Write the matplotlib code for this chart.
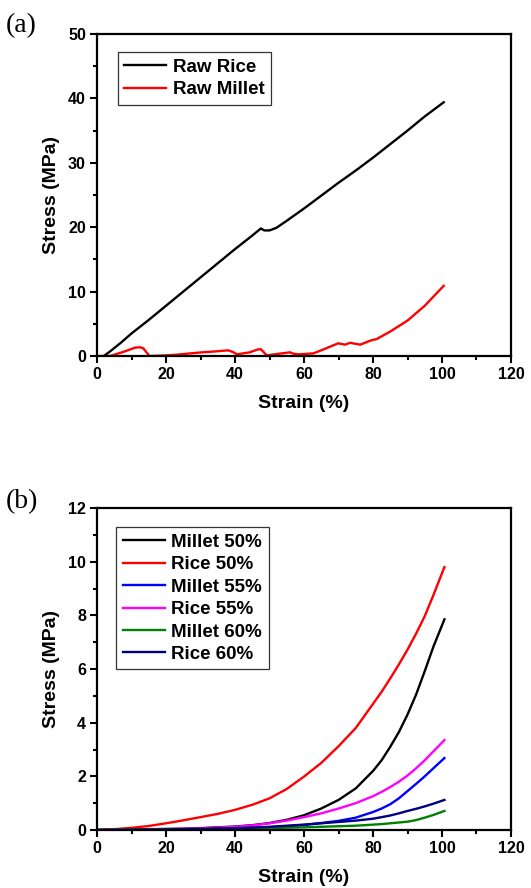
import numpy as np
import matplotlib
matplotlib.use("Agg")
import matplotlib.pyplot as plt
from matplotlib.ticker import MultipleLocator

plt.rcParams['font.family'] = ['Liberation Sans', 'DejaVu Sans']
plt.rcParams['font.weight'] = 'bold'

# panel (a): raw materials
rice_raw_x = [2, 4, 7, 10, 15, 20, 25, 30, 35, 40, 45, 47.5, 48.5, 50, 52, 55, 60, 65, 70, 75, 80, 85, 90, 95, 100.5]
rice_raw_y = [0, 0.8, 2.1, 3.5, 5.6, 7.8, 10.0, 12.2, 14.4, 16.6, 18.7, 19.8, 19.5, 19.5, 19.9, 21.0, 22.9, 24.9, 26.9, 28.8, 30.8, 32.9, 35.0, 37.2, 39.4]

millet_raw_x = [0, 3.8, 8, 11, 12.5, 13.4, 15.2, 20, 23, 30, 34, 38, 39.5, 40.5, 44.3, 46.5, 47.5, 49.2, 52, 55.9, 57, 58.4, 62.7, 66, 69.9, 71.9, 73.4, 76.3, 79.2, 81.1, 85, 90, 95, 100.5]
millet_raw_y = [0, 0, 0.7, 1.3, 1.35, 1.2, 0, 0.1, 0.2, 0.55, 0.7, 0.88, 0.6, 0.26, 0.57, 1.0, 1.05, 0.1, 0.3, 0.57, 0.35, 0.26, 0.4, 1.1, 1.97, 1.76, 2.05, 1.76, 2.38, 2.64, 3.8, 5.5, 7.8, 10.9]

# panel (b): compositions
strain_b = [0, 5, 10, 15, 20, 25, 30, 35, 40, 45, 50, 55, 60, 65, 70, 75, 80, 82.5, 85, 87.5, 90, 92.5, 95, 97.5, 100.7]
millet50 = [0, 0.01, 0.02, 0.03, 0.04, 0.05, 0.07, 0.1, 0.13, 0.18, 0.26, 0.38, 0.55, 0.8, 1.12, 1.55, 2.2, 2.6, 3.1, 3.65, 4.3, 5.05, 5.92, 6.83, 7.85]
rice50 = [0, 0.03, 0.08, 0.15, 0.25, 0.36, 0.48, 0.6, 0.75, 0.94, 1.18, 1.53, 1.99, 2.5, 3.12, 3.8, 4.7, 5.15, 5.65, 6.17, 6.72, 7.32, 7.97, 8.75, 9.8]
millet55 = [0, 0.005, 0.01, 0.015, 0.02, 0.03, 0.04, 0.05, 0.06, 0.08, 0.1, 0.14, 0.19, 0.26, 0.34, 0.46, 0.67, 0.8, 0.96, 1.18, 1.45, 1.72, 2.0, 2.3, 2.68]
rice55 = [0, 0.005, 0.01, 0.02, 0.03, 0.045, 0.06, 0.09, 0.12, 0.17, 0.25, 0.35, 0.48, 0.62, 0.8, 1.0, 1.26, 1.42, 1.6, 1.8, 2.03, 2.3, 2.6, 2.93, 3.35]
millet60 = [0, 0.005, 0.01, 0.015, 0.02, 0.025, 0.03, 0.04, 0.05, 0.06, 0.07, 0.085, 0.1, 0.12, 0.14, 0.16, 0.2, 0.22, 0.25, 0.28, 0.31, 0.37, 0.46, 0.56, 0.71]
rice60 = [0, 0.005, 0.01, 0.015, 0.02, 0.03, 0.04, 0.055, 0.07, 0.09, 0.12, 0.16, 0.2, 0.25, 0.3, 0.35, 0.42, 0.48, 0.54, 0.62, 0.71, 0.79, 0.88, 0.98, 1.12]

series_b = [
    ("Millet 50%", millet50, "#000000"),
    ("Rice 50%", rice50, "#ff0000"),
    ("Millet 55%", millet55, "#0000ff"),
    ("Rice 55%", rice55, "#ff00ff"),
    ("Millet 60%", millet60, "#008000"),
    ("Rice 60%", rice60, "#000080"),
]

W, H = 531, 888
fig = plt.figure(figsize=(W / 100, H / 100), dpi=100)


def make_axes(left, top, right, bottom):
    return fig.add_axes([left / W, 1 - bottom / H, (right - left) / W, (bottom - top) / H])


def style(ax, ymax, ystep):
    ax.set_xlim(0, 120)
    ax.set_ylim(0, ymax)
    ax.xaxis.set_major_locator(MultipleLocator(20))
    ax.xaxis.set_minor_locator(MultipleLocator(10))
    ax.yaxis.set_major_locator(MultipleLocator(ystep))
    ax.yaxis.set_minor_locator(MultipleLocator(ystep / 2))
    ax.tick_params(which='both', direction='out', width=1.5, top=False, right=False)
    ax.tick_params(which='major', length=5, labelsize=11.5, pad=3)
    ax.tick_params(which='minor', length=3)
    for s in ax.spines.values():
        s.set_linewidth(1.6)
    for lab in ax.get_xticklabels() + ax.get_yticklabels():
        lab.set_fontweight('bold')
    ax.set_xlabel("Strain (%)", fontsize=14, fontweight='bold', labelpad=9)
    ax.set_ylabel("Stress (MPa)", fontsize=14, fontweight='bold', labelpad=6)


def add_legend(ax, anchor):
    leg = ax.legend(loc='upper left', bbox_to_anchor=anchor, fancybox=False,
                    prop={'weight': 'bold', 'size': 13.5}, handlelength=2.25,
                    labelspacing=0.28, borderpad=0.35, borderaxespad=0,
                    handletextpad=0.35, framealpha=1)
    leg.get_frame().set_edgecolor('#333333')
    leg.get_frame().set_linewidth(0.9)
    return leg


ax1 = make_axes(97, 34, 511, 356)
ax1.plot(rice_raw_x, rice_raw_y, color='black', lw=1.7, label="Raw Rice")
ax1.plot(millet_raw_x, millet_raw_y, color='#ff0000', lw=1.7, label="Raw Millet")
style(ax1, 50, 10)
add_legend(ax1, (0.05, 0.943))

ax2 = make_axes(97, 508, 511, 830)
for name, vals, col in series_b:
    ax2.plot(strain_b, vals, color=col, lw=1.7, label=name)
style(ax2, 12, 2)
add_legend(ax2, (0.046, 0.94))

fig.text(6 / W, 1 - 26 / H, "(a)", fontsize=20, family='Liberation Serif', fontweight='normal', va='center')
fig.text(6 / W, 1 - 502 / H, "(b)", fontsize=20, family='Liberation Serif', fontweight='normal', va='center')

fig.savefig("out.png", dpi=100)
